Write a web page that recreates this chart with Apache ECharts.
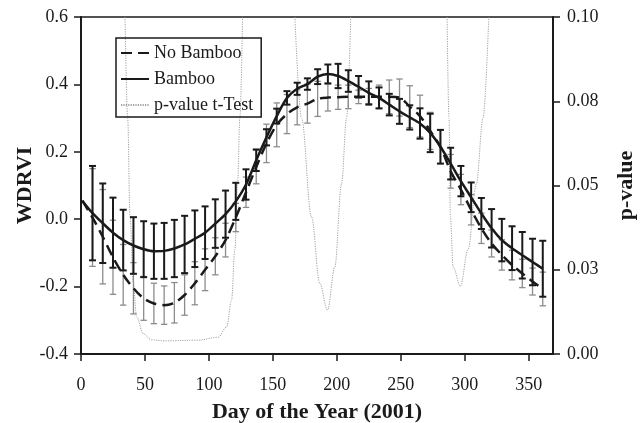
<!DOCTYPE html>
<html>
<head>
<meta charset="utf-8">
<script src="https://cdn.jsdelivr.net/npm/echarts@6/dist/echarts.min.js"></script>
<style>
html,body{margin:0;padding:0;background:#fff;}
#chart{width:640px;height:423px;}
</style>
</head>
<body>
<div id="chart"></div>
<script>
// Day of year (8-day composites)
var days = [1,9,17,25,33,41,49,57,65,73,81,89,97,105,113,121,129,137,145,153,161,169,177,185,193,201,209,217,225,233,241,249,257,265,273,281,289,297,305,313,321,329,337,345,353,361];

// WDRVI, Bamboo (solid)
var bamboo = [0.055,0.018,-0.012,-0.040,-0.062,-0.078,-0.089,-0.095,-0.094,-0.087,-0.075,-0.058,-0.040,-0.013,0.015,0.053,0.103,0.175,0.243,0.306,0.360,0.387,0.401,0.423,0.431,0.425,0.410,0.393,0.375,0.360,0.340,0.320,0.302,0.284,0.256,0.215,0.165,0.113,0.065,0.017,-0.027,-0.062,-0.086,-0.107,-0.127,-0.147];
var bambooErr = [null,0.140,0.118,0.104,0.090,0.084,0.083,0.082,0.083,0.085,0.085,0.084,0.078,0.072,0.070,0.055,0.045,0.032,0.024,0.022,0.020,0.018,0.017,0.022,0.028,0.036,0.032,0.032,0.034,0.031,0.032,0.037,0.036,0.045,0.057,0.050,0.047,0.045,0.044,0.046,0.057,0.063,0.065,0.069,0.069,0.083];

// WDRVI, No Bamboo (dashed)
var noBamboo = [0.055,0.005,-0.052,-0.113,-0.165,-0.205,-0.235,-0.250,-0.255,-0.248,-0.225,-0.190,-0.150,-0.110,-0.062,0.005,0.080,0.155,0.225,0.280,0.312,0.332,0.343,0.357,0.361,0.362,0.363,0.363,0.363,0.363,0.363,0.361,0.334,0.306,0.262,0.215,0.142,0.088,0.028,-0.027,-0.072,-0.106,-0.136,-0.161,-0.185,-0.207];
var noBambooErr = [null,0.145,0.140,0.110,0.090,0.076,0.065,0.060,0.057,0.060,0.060,0.064,0.062,0.055,0.050,0.042,0.045,0.050,0.057,0.065,0.058,0.052,0.058,0.052,0.040,0.036,0.035,0.020,0.025,0.035,0.050,0.055,0.062,0.062,0.055,0.050,0.050,0.045,0.045,0.045,0.040,0.045,0.044,0.042,0.040,0.050];

// p-value of t-test (right axis), three dips
var pDays1 = [34.4,36.5,38.3,40.9,43.5,48.7,55.2,65.6,91.6,107.3,113.8,117.7,120.3,122.4,124.2,126.3];
var pVals1 = [0.100,0.070,0.041,0.021,0.011,0.006,0.0042,0.0039,0.0041,0.0050,0.0080,0.016,0.031,0.0505,0.070,0.100];
var pDays2 = [167.2,172.4,180.2,186.7,192.7,198.4,203.7,207.6,210.9];
var pVals2 = [0.100,0.070,0.0407,0.0209,0.0130,0.0258,0.0505,0.070,0.100];
var pDays3 = [286.2,287.7,288.8,290.9,296.6,302.6,309.1,314.3,318.8];
var pVals3 = [0.100,0.070,0.0407,0.0258,0.0201,0.031,0.0505,0.070,0.100];

var xTicks = [0,50,100,150,200,250,300,350];
var rightTickLabels = ['0.00','0.03','0.05','0.08','0.10'];

var FONT = '"Liberation Serif","Times New Roman",serif';
var INK = '#1a1a1a';

function pairs(xs, ys){ return xs.map(function(x,i){ return [x, ys[i]]; }); }
function errData(vals, errs){
  var out = [];
  days.forEach(function(d,i){ if (errs[i] != null) out.push([d, vals[i]-errs[i], vals[i]+errs[i]]); });
  return out;
}
function errRenderer(color, w, cap){
  return function(params, api){
    var x = api.value(0), lo = api.value(1), hi = api.value(2);
    var p1 = api.coord([x, hi]), p2 = api.coord([x, lo]);
    var st = {stroke: color, lineWidth: w};
    return {type:'group', children:[
      {type:'line', shape:{x1:p1[0],y1:p1[1],x2:p2[0],y2:p2[1]}, style:st},
      {type:'line', shape:{x1:p1[0]-cap,y1:p1[1],x2:p1[0]+cap,y2:p1[1]}, style:st},
      {type:'line', shape:{x1:p2[0]-cap,y1:p2[1],x2:p2[0]+cap,y2:p2[1]}, style:st}
    ]};
  };
}

var chart = echarts.init(document.getElementById('chart'), null, {renderer:'canvas'});
var pStyle = {color:'#a0a0a0', width:1, type:[1.2,1.2]};
var hiddenSym = {opacity:0, color:'transparent', borderWidth:0};
var option = {
  animation:false,
  backgroundColor:'#fff',
  grid:{left:81,right:87,top:17,bottom:69,containLabel:false,outerBoundsMode:'none',show:true,borderColor:INK,borderWidth:1.5,backgroundColor:'transparent'},
  legend:{
    left:116, top:38, orient:'vertical',
    borderColor:INK, borderWidth:1.5, padding:[6,8,3,4],
    itemWidth:28, itemHeight:14, itemGap:8,
    itemStyle:hiddenSym,
    textStyle:{fontFamily:FONT, fontSize:18, color:INK},
    data:['No Bamboo','Bamboo','p-value t-Test']
  },
  xAxis:{
    type:'value', min:0, max:369,
    name:'Day of the Year (2001)', nameLocation:'middle', nameGap:47, nameMoveOverlap:false,
    nameTextStyle:{fontFamily:FONT, fontSize:22, fontWeight:'bold', color:INK},
    axisLine:{show:true, onZero:false, lineStyle:{color:INK, width:2}},
    axisTick:{show:true, length:7, lineStyle:{color:INK, width:1.5}, customValues:xTicks},
    axisLabel:{fontFamily:FONT, fontSize:18, color:INK, margin:22, customValues:xTicks},
    splitLine:{show:false}
  },
  yAxis:[{
    type:'value', min:-0.4, max:0.6, interval:0.2, position:'left',
    name:'WDRVI', nameLocation:'middle', nameRotate:90, nameGap:45, nameMoveOverlap:false,
    nameTextStyle:{fontFamily:FONT, fontSize:22, fontWeight:'bold', color:INK},
    axisLine:{show:true, onZero:false, lineStyle:{color:INK, width:2}},
    axisTick:{show:true, length:7, lineStyle:{color:INK, width:1.5}},
    axisLabel:{fontFamily:FONT, fontSize:18, color:INK, margin:13, formatter:function(v){ return v.toFixed(1); }},
    splitLine:{show:false}
  },{
    type:'value', min:0, max:0.1, interval:0.025, position:'right',
    name:'p-value', nameLocation:'middle', nameRotate:90, nameGap:62, nameMoveOverlap:false,
    nameTextStyle:{fontFamily:FONT, fontSize:22, fontWeight:'bold', color:INK},
    axisLine:{show:true, onZero:false, lineStyle:{color:INK, width:2}},
    axisTick:{show:true, length:7, lineStyle:{color:INK, width:1.5}},
    axisLabel:{fontFamily:FONT, fontSize:18, color:INK, margin:14, formatter:function(v){ return rightTickLabels[Math.round(v/0.025)]; }},
    splitLine:{show:false}
  }],
  series:[
    {name:'p-value t-Test', type:'line', yAxisIndex:1, data:pairs(pDays1,pVals1), symbol:'none', smooth:0.35, smoothMonotone:'x', lineStyle:pStyle, itemStyle:{color:'#a0a0a0'}, z:1, clip:true},
    {name:'p-value t-Test', type:'line', yAxisIndex:1, data:pairs(pDays2,pVals2), symbol:'none', smooth:0.35, smoothMonotone:'x', lineStyle:pStyle, itemStyle:{color:'#a0a0a0'}, z:1, clip:true},
    {name:'p-value t-Test', type:'line', yAxisIndex:1, data:pairs(pDays3,pVals3), symbol:'none', smooth:0.35, smoothMonotone:'x', lineStyle:pStyle, itemStyle:{color:'#a0a0a0'}, z:1, clip:true},
    {name:'No Bamboo err', type:'custom', data:errData(noBamboo,noBambooErr), renderItem:errRenderer('#8c8c8c',1.3,3.2), encode:{x:0,y:[1,2]}, z:2, clip:true, silent:true},
    {name:'Bamboo err', type:'custom', data:errData(bamboo,bambooErr), renderItem:errRenderer(INK,2,3.5), encode:{x:0,y:[1,2]}, z:3, clip:true, silent:true},
    {name:'No Bamboo', type:'line', data:pairs(days,noBamboo), symbol:'none', smooth:0.3, lineStyle:{color:INK, width:2.5, type:[11,6]}, itemStyle:{color:INK}, z:4},
    {name:'Bamboo', type:'line', data:pairs(days,bamboo), symbol:'none', smooth:0.3, lineStyle:{color:INK, width:2.5}, itemStyle:{color:INK}, z:5}
  ]
};
chart.setOption(option);
</script>
</body>
</html>
